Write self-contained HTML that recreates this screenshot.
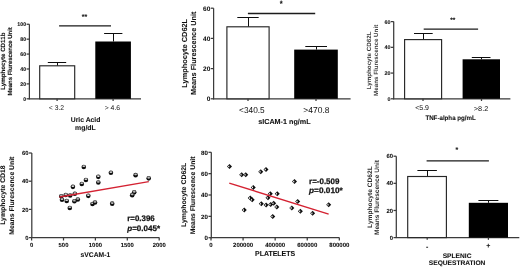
<!DOCTYPE html>
<html><head><meta charset="utf-8"><style>
html,body{margin:0;padding:0;background:#fff;width:520px;height:267px;overflow:hidden}
svg{display:block;-webkit-font-smoothing:antialiased;text-rendering:geometricPrecision}
text{font-family:"Liberation Sans", sans-serif;fill:#111}
</style></head><body>
<svg width="520" height="267" viewBox="0 0 520 267" style="will-change:transform">
<defs><filter id="soft" x="0" y="0" width="1" height="1"><feGaussianBlur stdDeviation="0.45"/></filter></defs>
<rect width="520" height="267" fill="#fff"/>
<g filter="url(#soft)">
<rect width="520" height="267" fill="#fff"/>
<text x="5.20" y="61.20" font-size="6.1" font-weight="bold" text-anchor="middle" textLength="57.21" lengthAdjust="spacingAndGlyphs" stroke="#111" stroke-width="0.12" style="fill:#111" transform="rotate(-90 5.20 61.20)">Lymphocyte CD11b</text>
<text x="12.36" y="61.40" font-size="6.0" font-weight="bold" text-anchor="middle" textLength="68.40" lengthAdjust="spacingAndGlyphs" stroke="#111" stroke-width="0.12" style="fill:#111" transform="rotate(-90 12.36 61.40)">Means Flurescence Unit</text>
<line x1="29.40" y1="99.30" x2="29.40" y2="24.25" stroke="#3a3a3a" stroke-width="1.25"/>
<line x1="26.60" y1="98.80" x2="29.40" y2="98.80" stroke="#3a3a3a" stroke-width="1.25"/>
<text x="26.10" y="100.71" font-size="5.3" font-weight="bold" text-anchor="end" stroke="#111" stroke-width="0.08">0</text>
<line x1="26.60" y1="83.89" x2="29.40" y2="83.89" stroke="#3a3a3a" stroke-width="1.25"/>
<text x="26.10" y="85.80" font-size="5.3" font-weight="bold" text-anchor="end" stroke="#111" stroke-width="0.08">20</text>
<line x1="26.60" y1="68.98" x2="29.40" y2="68.98" stroke="#3a3a3a" stroke-width="1.25"/>
<text x="26.10" y="70.89" font-size="5.3" font-weight="bold" text-anchor="end" stroke="#111" stroke-width="0.08">40</text>
<line x1="26.60" y1="54.07" x2="29.40" y2="54.07" stroke="#3a3a3a" stroke-width="1.25"/>
<text x="26.10" y="55.98" font-size="5.3" font-weight="bold" text-anchor="end" stroke="#111" stroke-width="0.08">60</text>
<line x1="26.60" y1="39.16" x2="29.40" y2="39.16" stroke="#3a3a3a" stroke-width="1.25"/>
<text x="26.10" y="41.07" font-size="5.3" font-weight="bold" text-anchor="end" stroke="#111" stroke-width="0.08">80</text>
<line x1="26.60" y1="24.25" x2="29.40" y2="24.25" stroke="#3a3a3a" stroke-width="1.25"/>
<text x="26.10" y="26.16" font-size="5.3" font-weight="bold" text-anchor="end" stroke="#111" stroke-width="0.08">100</text>
<line x1="28.77" y1="98.80" x2="141.00" y2="98.80" stroke="#3a3a3a" stroke-width="1.25"/>
<line x1="57.50" y1="62.50" x2="57.50" y2="65.80" stroke="#111" stroke-width="1.0"/>
<line x1="47.80" y1="62.50" x2="66.20" y2="62.50" stroke="#111" stroke-width="1.0"/>
<rect x="39.70" y="65.80" width="35.00" height="33.00" fill="#fff" stroke="#262626" stroke-width="1.15"/>
<line x1="113.50" y1="33.80" x2="113.50" y2="41.50" stroke="#111" stroke-width="1.0"/>
<line x1="104.10" y1="33.50" x2="122.40" y2="33.50" stroke="#111" stroke-width="1.0"/>
<rect x="95.30" y="41.50" width="35.60" height="57.30" fill="#000"/>
<line x1="57.10" y1="98.80" x2="57.10" y2="101.00" stroke="#3a3a3a" stroke-width="1.25"/>
<line x1="113.10" y1="98.80" x2="113.10" y2="101.00" stroke="#3a3a3a" stroke-width="1.25"/>
<text x="56.45" y="109.95" font-size="6.8" font-weight="normal" text-anchor="middle" textLength="15.30" lengthAdjust="spacingAndGlyphs">&lt; 3.2</text>
<text x="112.45" y="110.25" font-size="6.8" font-weight="normal" text-anchor="middle" textLength="15.50" lengthAdjust="spacingAndGlyphs">&gt; 4.6</text>
<text x="85.60" y="122.12" font-size="7.0" font-weight="bold" text-anchor="middle" textLength="29.60" lengthAdjust="spacingAndGlyphs" stroke="#111" stroke-width="0.08">Uric Acid</text>
<text x="85.40" y="129.92" font-size="7.0" font-weight="bold" text-anchor="middle" textLength="20.60" lengthAdjust="spacingAndGlyphs" stroke="#111" stroke-width="0.08">mg/dL</text>
<line x1="59.10" y1="25.90" x2="111.00" y2="25.90" stroke="#1a1a1a" stroke-width="1.35"/>
<text x="84.40" y="19.32" font-size="7.0" font-weight="bold" text-anchor="middle" stroke="#111" stroke-width="0.08">**</text>
<text x="186.83" y="53.25" font-size="7.3" font-weight="bold" text-anchor="middle" textLength="68.83" lengthAdjust="spacingAndGlyphs" stroke="#111" stroke-width="0.08" transform="rotate(-90 186.83 53.25)">Lymphocyte CD62L</text>
<text x="195.68" y="53.30" font-size="7.3" font-weight="bold" text-anchor="middle" textLength="83.53" lengthAdjust="spacingAndGlyphs" stroke="#111" stroke-width="0.08" transform="rotate(-90 195.68 53.30)">Means Flurescence Unit</text>
<line x1="213.60" y1="99.30" x2="213.60" y2="8.20" stroke="#3a3a3a" stroke-width="1.25"/>
<line x1="210.80" y1="98.80" x2="213.60" y2="98.80" stroke="#3a3a3a" stroke-width="1.25"/>
<text x="210.30" y="101.14" font-size="6.5" font-weight="bold" text-anchor="end" stroke="#111" stroke-width="0.08">0</text>
<line x1="210.80" y1="68.60" x2="213.60" y2="68.60" stroke="#3a3a3a" stroke-width="1.25"/>
<text x="210.30" y="70.94" font-size="6.5" font-weight="bold" text-anchor="end" stroke="#111" stroke-width="0.08">20</text>
<line x1="210.80" y1="38.40" x2="213.60" y2="38.40" stroke="#3a3a3a" stroke-width="1.25"/>
<text x="210.30" y="40.74" font-size="6.5" font-weight="bold" text-anchor="end" stroke="#111" stroke-width="0.08">40</text>
<line x1="210.80" y1="8.20" x2="213.60" y2="8.20" stroke="#3a3a3a" stroke-width="1.25"/>
<text x="210.30" y="10.54" font-size="6.5" font-weight="bold" text-anchor="end" stroke="#111" stroke-width="0.08">60</text>
<line x1="212.97" y1="98.80" x2="350.60" y2="98.80" stroke="#3a3a3a" stroke-width="1.25"/>
<line x1="248.50" y1="17.20" x2="248.50" y2="26.80" stroke="#111" stroke-width="1.0"/>
<line x1="237.30" y1="17.50" x2="258.70" y2="17.50" stroke="#111" stroke-width="1.0"/>
<rect x="226.90" y="26.80" width="42.20" height="72.00" fill="#fff" stroke="#262626" stroke-width="1.15"/>
<line x1="316.50" y1="46.85" x2="316.50" y2="49.60" stroke="#111" stroke-width="1.0"/>
<line x1="305.30" y1="46.50" x2="327.00" y2="46.50" stroke="#111" stroke-width="1.0"/>
<rect x="294.20" y="49.60" width="43.60" height="49.20" fill="#000"/>
<line x1="248.00" y1="98.80" x2="248.00" y2="101.00" stroke="#3a3a3a" stroke-width="1.25"/>
<line x1="316.00" y1="98.80" x2="316.00" y2="101.00" stroke="#3a3a3a" stroke-width="1.25"/>
<text x="251.90" y="112.70" font-size="8.6" font-weight="normal" text-anchor="middle" textLength="25.60" lengthAdjust="spacingAndGlyphs">&lt;340.5</text>
<text x="316.40" y="112.70" font-size="8.6" font-weight="normal" text-anchor="middle" textLength="26.20" lengthAdjust="spacingAndGlyphs">&gt;470.8</text>
<text x="284.40" y="123.69" font-size="7.2" font-weight="bold" text-anchor="middle" textLength="52.40" lengthAdjust="spacingAndGlyphs" stroke="#111" stroke-width="0.08">sICAM-1 ng/mL</text>
<line x1="247.90" y1="13.50" x2="315.20" y2="13.50" stroke="#1a1a1a" stroke-width="1.35"/>
<text x="281.10" y="5.70" font-size="7.5" font-weight="bold" text-anchor="middle" stroke="#111" stroke-width="0.08">*</text>
<text x="371.00" y="60.40" font-size="6.1" font-weight="bold" text-anchor="middle" textLength="57.81" lengthAdjust="spacingAndGlyphs" style="fill:#383838" transform="rotate(-90 371.00 60.40)">Lymphocyte CD62L</text>
<text x="378.50" y="60.35" font-size="6.1" font-weight="bold" text-anchor="middle" textLength="71.11" lengthAdjust="spacingAndGlyphs" style="fill:#383838" transform="rotate(-90 378.50 60.35)">Means Flurescence Unit</text>
<line x1="393.70" y1="99.30" x2="393.70" y2="21.60" stroke="#3a3a3a" stroke-width="1.25"/>
<line x1="390.90" y1="98.80" x2="393.70" y2="98.80" stroke="#3a3a3a" stroke-width="1.25"/>
<text x="390.40" y="100.74" font-size="5.4" font-weight="bold" text-anchor="end" stroke="#111" stroke-width="0.08">0</text>
<line x1="390.90" y1="73.07" x2="393.70" y2="73.07" stroke="#3a3a3a" stroke-width="1.25"/>
<text x="390.40" y="75.01" font-size="5.4" font-weight="bold" text-anchor="end" stroke="#111" stroke-width="0.08">20</text>
<line x1="390.90" y1="47.33" x2="393.70" y2="47.33" stroke="#3a3a3a" stroke-width="1.25"/>
<text x="390.40" y="49.28" font-size="5.4" font-weight="bold" text-anchor="end" stroke="#111" stroke-width="0.08">40</text>
<line x1="390.90" y1="21.60" x2="393.70" y2="21.60" stroke="#3a3a3a" stroke-width="1.25"/>
<text x="390.40" y="23.54" font-size="5.4" font-weight="bold" text-anchor="end" stroke="#111" stroke-width="0.08">60</text>
<line x1="393.07" y1="98.80" x2="510.40" y2="98.80" stroke="#3a3a3a" stroke-width="1.25"/>
<line x1="423.50" y1="33.60" x2="423.50" y2="39.60" stroke="#111" stroke-width="1.0"/>
<line x1="414.00" y1="33.50" x2="432.70" y2="33.50" stroke="#111" stroke-width="1.0"/>
<rect x="404.60" y="39.60" width="37.00" height="59.20" fill="#fff" stroke="#262626" stroke-width="1.15"/>
<line x1="481.50" y1="57.40" x2="481.50" y2="59.30" stroke="#111" stroke-width="1.0"/>
<line x1="471.80" y1="57.50" x2="490.50" y2="57.50" stroke="#111" stroke-width="1.0"/>
<rect x="462.60" y="59.30" width="37.40" height="39.50" fill="#000"/>
<line x1="423.00" y1="98.80" x2="423.00" y2="101.00" stroke="#3a3a3a" stroke-width="1.25"/>
<line x1="481.50" y1="98.80" x2="481.50" y2="101.00" stroke="#3a3a3a" stroke-width="1.25"/>
<text x="422.10" y="110.32" font-size="7.0" font-weight="normal" text-anchor="middle" textLength="13.80" lengthAdjust="spacingAndGlyphs">&lt;5.9</text>
<text x="481.05" y="110.52" font-size="7.0" font-weight="normal" text-anchor="middle" textLength="14.50" lengthAdjust="spacingAndGlyphs">&gt;8.2</text>
<text x="450.60" y="120.30" font-size="6.4" font-weight="bold" text-anchor="middle" textLength="50.40" lengthAdjust="spacingAndGlyphs" stroke="#111" stroke-width="0.08">TNF-alpha pg/mL</text>
<line x1="423.70" y1="29.10" x2="478.10" y2="29.10" stroke="#1a1a1a" stroke-width="1.35"/>
<text x="452.80" y="22.49" font-size="6.5" font-weight="bold" text-anchor="middle" stroke="#111" stroke-width="0.08">**</text>
<text x="5.28" y="195.10" font-size="6.75" font-weight="bold" text-anchor="middle" textLength="59.48" lengthAdjust="spacingAndGlyphs" stroke="#111" stroke-width="0.08" transform="rotate(-90 5.28 195.10)">Lymphocyte CD18</text>
<text x="13.93" y="195.70" font-size="6.75" font-weight="bold" text-anchor="middle" textLength="78.08" lengthAdjust="spacingAndGlyphs" stroke="#111" stroke-width="0.08" transform="rotate(-90 13.93 195.70)">Means Flurescence Unit</text>
<line x1="31.80" y1="238.10" x2="31.80" y2="153.00" stroke="#3a3a3a" stroke-width="1.25"/>
<line x1="29.00" y1="237.60" x2="31.80" y2="237.60" stroke="#3a3a3a" stroke-width="1.25"/>
<text x="28.50" y="239.72" font-size="5.9" font-weight="bold" text-anchor="end" stroke="#111" stroke-width="0.08">0</text>
<line x1="29.00" y1="209.40" x2="31.80" y2="209.40" stroke="#3a3a3a" stroke-width="1.25"/>
<text x="28.50" y="211.52" font-size="5.9" font-weight="bold" text-anchor="end" stroke="#111" stroke-width="0.08">20</text>
<line x1="29.00" y1="181.20" x2="31.80" y2="181.20" stroke="#3a3a3a" stroke-width="1.25"/>
<text x="28.50" y="183.32" font-size="5.9" font-weight="bold" text-anchor="end" stroke="#111" stroke-width="0.08">40</text>
<line x1="29.00" y1="153.00" x2="31.80" y2="153.00" stroke="#3a3a3a" stroke-width="1.25"/>
<text x="28.50" y="155.12" font-size="5.9" font-weight="bold" text-anchor="end" stroke="#111" stroke-width="0.08">60</text>
<line x1="31.18" y1="237.60" x2="159.30" y2="237.60" stroke="#3a3a3a" stroke-width="1.25"/>
<line x1="31.60" y1="237.60" x2="31.60" y2="240.50" stroke="#3a3a3a" stroke-width="1.25"/>
<text x="31.60" y="247.42" font-size="5.9" font-weight="bold" text-anchor="middle" stroke="#111" stroke-width="0.08">0</text>
<line x1="63.50" y1="237.60" x2="63.50" y2="240.50" stroke="#3a3a3a" stroke-width="1.25"/>
<text x="63.50" y="247.42" font-size="5.9" font-weight="bold" text-anchor="middle" stroke="#111" stroke-width="0.08">500</text>
<line x1="95.40" y1="237.60" x2="95.40" y2="240.50" stroke="#3a3a3a" stroke-width="1.25"/>
<text x="95.40" y="247.42" font-size="5.9" font-weight="bold" text-anchor="middle" stroke="#111" stroke-width="0.08">1000</text>
<line x1="127.30" y1="237.60" x2="127.30" y2="240.50" stroke="#3a3a3a" stroke-width="1.25"/>
<text x="127.30" y="247.42" font-size="5.9" font-weight="bold" text-anchor="middle" stroke="#111" stroke-width="0.08">1500</text>
<line x1="159.20" y1="237.60" x2="159.20" y2="240.50" stroke="#3a3a3a" stroke-width="1.25"/>
<text x="159.20" y="247.42" font-size="5.9" font-weight="bold" text-anchor="middle" stroke="#111" stroke-width="0.08">2000</text>
<text x="95.40" y="257.08" font-size="6.9" font-weight="bold" text-anchor="middle" textLength="29.60" lengthAdjust="spacingAndGlyphs" stroke="#111" stroke-width="0.08">sVCAM-1</text>
<g transform="translate(83.80,166.95)"><circle r="2.3" fill="#111"/><ellipse cx="0" cy="-1.05" rx="1.55" ry="0.95" fill="#8a8a8a"/><ellipse cx="0" cy="-0.35" rx="1.45" ry="0.42" fill="#fff"/></g>
<g transform="translate(72.90,186.85)"><circle r="2.3" fill="#111"/><ellipse cx="0" cy="-1.05" rx="1.55" ry="0.95" fill="#8a8a8a"/><ellipse cx="0" cy="-0.35" rx="1.45" ry="0.42" fill="#fff"/></g>
<g transform="translate(81.80,183.95)"><circle r="2.3" fill="#111"/><ellipse cx="0" cy="-1.05" rx="1.55" ry="0.95" fill="#8a8a8a"/><ellipse cx="0" cy="-0.35" rx="1.45" ry="0.42" fill="#fff"/></g>
<g transform="translate(85.90,180.05)"><circle r="2.3" fill="#111"/><ellipse cx="0" cy="-1.05" rx="1.55" ry="0.95" fill="#8a8a8a"/><ellipse cx="0" cy="-0.35" rx="1.45" ry="0.42" fill="#fff"/></g>
<g transform="translate(98.30,176.85)"><circle r="2.3" fill="#111"/><ellipse cx="0" cy="-1.05" rx="1.55" ry="0.95" fill="#8a8a8a"/><ellipse cx="0" cy="-0.35" rx="1.45" ry="0.42" fill="#fff"/></g>
<g transform="translate(98.30,182.45)"><circle r="2.3" fill="#111"/><ellipse cx="0" cy="-1.05" rx="1.55" ry="0.95" fill="#8a8a8a"/><ellipse cx="0" cy="-0.35" rx="1.45" ry="0.42" fill="#fff"/></g>
<g transform="translate(61.30,196.25)"><circle r="2.3" fill="#111"/><ellipse cx="0" cy="-1.05" rx="1.55" ry="0.95" fill="#8a8a8a"/><ellipse cx="0" cy="-0.35" rx="1.45" ry="0.42" fill="#fff"/></g>
<g transform="translate(65.75,195.05)"><circle r="2.3" fill="#111"/><ellipse cx="0" cy="-1.05" rx="1.55" ry="0.95" fill="#8a8a8a"/><ellipse cx="0" cy="-0.35" rx="1.45" ry="0.42" fill="#fff"/></g>
<g transform="translate(70.20,195.45)"><circle r="2.3" fill="#111"/><ellipse cx="0" cy="-1.05" rx="1.55" ry="0.95" fill="#8a8a8a"/><ellipse cx="0" cy="-0.35" rx="1.45" ry="0.42" fill="#fff"/></g>
<g transform="translate(74.80,193.75)"><circle r="2.3" fill="#111"/><ellipse cx="0" cy="-1.05" rx="1.55" ry="0.95" fill="#8a8a8a"/><ellipse cx="0" cy="-0.35" rx="1.45" ry="0.42" fill="#fff"/></g>
<g transform="translate(88.30,195.85)"><circle r="2.3" fill="#111"/><ellipse cx="0" cy="-1.05" rx="1.55" ry="0.95" fill="#8a8a8a"/><ellipse cx="0" cy="-0.35" rx="1.45" ry="0.42" fill="#fff"/></g>
<g transform="translate(62.00,199.75)"><circle r="2.3" fill="#111"/><ellipse cx="0" cy="-1.05" rx="1.55" ry="0.95" fill="#8a8a8a"/><ellipse cx="0" cy="-0.35" rx="1.45" ry="0.42" fill="#fff"/></g>
<g transform="translate(66.70,201.05)"><circle r="2.3" fill="#111"/><ellipse cx="0" cy="-1.05" rx="1.55" ry="0.95" fill="#8a8a8a"/><ellipse cx="0" cy="-0.35" rx="1.45" ry="0.42" fill="#fff"/></g>
<g transform="translate(74.40,201.25)"><circle r="2.3" fill="#111"/><ellipse cx="0" cy="-1.05" rx="1.55" ry="0.95" fill="#8a8a8a"/><ellipse cx="0" cy="-0.35" rx="1.45" ry="0.42" fill="#fff"/></g>
<g transform="translate(77.80,199.45)"><circle r="2.3" fill="#111"/><ellipse cx="0" cy="-1.05" rx="1.55" ry="0.95" fill="#8a8a8a"/><ellipse cx="0" cy="-0.35" rx="1.45" ry="0.42" fill="#fff"/></g>
<g transform="translate(92.50,203.95)"><circle r="2.3" fill="#111"/><ellipse cx="0" cy="-1.05" rx="1.55" ry="0.95" fill="#8a8a8a"/><ellipse cx="0" cy="-0.35" rx="1.45" ry="0.42" fill="#fff"/></g>
<g transform="translate(95.00,202.45)"><circle r="2.3" fill="#111"/><ellipse cx="0" cy="-1.05" rx="1.55" ry="0.95" fill="#8a8a8a"/><ellipse cx="0" cy="-0.35" rx="1.45" ry="0.42" fill="#fff"/></g>
<g transform="translate(69.80,207.95)"><circle r="2.3" fill="#111"/><ellipse cx="0" cy="-1.05" rx="1.55" ry="0.95" fill="#8a8a8a"/><ellipse cx="0" cy="-0.35" rx="1.45" ry="0.42" fill="#fff"/></g>
<g transform="translate(110.90,172.75)"><circle r="2.3" fill="#111"/><ellipse cx="0" cy="-1.05" rx="1.55" ry="0.95" fill="#8a8a8a"/><ellipse cx="0" cy="-0.35" rx="1.45" ry="0.42" fill="#fff"/></g>
<g transform="translate(135.60,175.15)"><circle r="2.3" fill="#111"/><ellipse cx="0" cy="-1.05" rx="1.55" ry="0.95" fill="#8a8a8a"/><ellipse cx="0" cy="-0.35" rx="1.45" ry="0.42" fill="#fff"/></g>
<g transform="translate(148.70,178.35)"><circle r="2.3" fill="#111"/><ellipse cx="0" cy="-1.05" rx="1.55" ry="0.95" fill="#8a8a8a"/><ellipse cx="0" cy="-0.35" rx="1.45" ry="0.42" fill="#fff"/></g>
<g transform="translate(134.20,192.35)"><circle r="2.3" fill="#111"/><ellipse cx="0" cy="-1.05" rx="1.55" ry="0.95" fill="#8a8a8a"/><ellipse cx="0" cy="-0.35" rx="1.45" ry="0.42" fill="#fff"/></g>
<g transform="translate(132.20,195.15)"><circle r="2.3" fill="#111"/><ellipse cx="0" cy="-1.05" rx="1.55" ry="0.95" fill="#8a8a8a"/><ellipse cx="0" cy="-0.35" rx="1.45" ry="0.42" fill="#fff"/></g>
<g transform="translate(112.20,203.65)"><circle r="2.3" fill="#111"/><ellipse cx="0" cy="-1.05" rx="1.55" ry="0.95" fill="#8a8a8a"/><ellipse cx="0" cy="-0.35" rx="1.45" ry="0.42" fill="#fff"/></g>
<line x1="59.40" y1="197.00" x2="148.80" y2="181.60" stroke="#d42232" stroke-width="1.4"/>
<text x="127.30" y="221.48" font-size="8.0" font-weight="bold" text-anchor="start" textLength="27.40" lengthAdjust="spacingAndGlyphs" stroke="#111" stroke-width="0.25">r=0.396</text>
<text x="127.30" y="231.18" font-size="8.0" font-weight="bold" text-anchor="start" textLength="32.70" lengthAdjust="spacingAndGlyphs" stroke="#111" stroke-width="0.25"><tspan font-style="italic">p</tspan>=0.045*</text>
<text x="185.95" y="194.85" font-size="6.8" font-weight="bold" text-anchor="middle" textLength="64.38" lengthAdjust="spacingAndGlyphs" stroke="#111" stroke-width="0.08" transform="rotate(-90 185.95 194.85)">Lymphocyte CD62L</text>
<text x="194.75" y="195.45" font-size="6.8" font-weight="bold" text-anchor="middle" textLength="77.78" lengthAdjust="spacingAndGlyphs" stroke="#111" stroke-width="0.08" transform="rotate(-90 194.75 195.45)">Means Flurescence Unit</text>
<line x1="211.30" y1="238.20" x2="211.30" y2="152.30" stroke="#3a3a3a" stroke-width="1.25"/>
<line x1="208.50" y1="237.70" x2="211.30" y2="237.70" stroke="#3a3a3a" stroke-width="1.25"/>
<text x="208.00" y="239.93" font-size="6.2" font-weight="bold" text-anchor="end" stroke="#111" stroke-width="0.08">0</text>
<line x1="208.50" y1="216.35" x2="211.30" y2="216.35" stroke="#3a3a3a" stroke-width="1.25"/>
<text x="208.00" y="218.58" font-size="6.2" font-weight="bold" text-anchor="end" stroke="#111" stroke-width="0.08">20</text>
<line x1="208.50" y1="195.00" x2="211.30" y2="195.00" stroke="#3a3a3a" stroke-width="1.25"/>
<text x="208.00" y="197.23" font-size="6.2" font-weight="bold" text-anchor="end" stroke="#111" stroke-width="0.08">40</text>
<line x1="208.50" y1="173.65" x2="211.30" y2="173.65" stroke="#3a3a3a" stroke-width="1.25"/>
<text x="208.00" y="175.88" font-size="6.2" font-weight="bold" text-anchor="end" stroke="#111" stroke-width="0.08">60</text>
<line x1="208.50" y1="152.30" x2="211.30" y2="152.30" stroke="#3a3a3a" stroke-width="1.25"/>
<text x="208.00" y="154.53" font-size="6.2" font-weight="bold" text-anchor="end" stroke="#111" stroke-width="0.08">80</text>
<line x1="210.68" y1="237.70" x2="339.50" y2="237.70" stroke="#3a3a3a" stroke-width="1.25"/>
<line x1="211.00" y1="237.70" x2="211.00" y2="240.50" stroke="#3a3a3a" stroke-width="1.25"/>
<text x="211.00" y="247.36" font-size="6.0" font-weight="bold" text-anchor="middle" stroke="#111" stroke-width="0.08">0</text>
<line x1="243.08" y1="237.70" x2="243.08" y2="240.50" stroke="#3a3a3a" stroke-width="1.25"/>
<text x="243.08" y="247.36" font-size="6.0" font-weight="bold" text-anchor="middle" stroke="#111" stroke-width="0.08">200000</text>
<line x1="275.16" y1="237.70" x2="275.16" y2="240.50" stroke="#3a3a3a" stroke-width="1.25"/>
<text x="275.16" y="247.36" font-size="6.0" font-weight="bold" text-anchor="middle" stroke="#111" stroke-width="0.08">400000</text>
<line x1="307.24" y1="237.70" x2="307.24" y2="240.50" stroke="#3a3a3a" stroke-width="1.25"/>
<text x="307.24" y="247.36" font-size="6.0" font-weight="bold" text-anchor="middle" stroke="#111" stroke-width="0.08">600000</text>
<line x1="339.32" y1="237.70" x2="339.32" y2="240.50" stroke="#3a3a3a" stroke-width="1.25"/>
<text x="339.32" y="247.36" font-size="6.0" font-weight="bold" text-anchor="middle" stroke="#111" stroke-width="0.08">800000</text>
<text x="275.10" y="256.49" font-size="7.2" font-weight="bold" text-anchor="middle" textLength="40.20" lengthAdjust="spacingAndGlyphs" stroke="#111" stroke-width="0.08">PLATELETS</text>
<g transform="translate(229.50,166.50)"><polygon points="-2.50,0 0,-2.50 2.50,0 0,2.50" fill="#111"/><polygon points="-1.6,0 -0.3,-1.3 -0.3,1.3" fill="#aaa"/><circle cx="-0.7" cy="0" r="0.55" fill="#fff"/></g>
<g transform="translate(241.70,174.80)"><polygon points="-2.50,0 0,-2.50 2.50,0 0,2.50" fill="#111"/><polygon points="-1.6,0 -0.3,-1.3 -0.3,1.3" fill="#aaa"/><circle cx="-0.7" cy="0" r="0.55" fill="#fff"/></g>
<g transform="translate(245.75,174.80)"><polygon points="-2.50,0 0,-2.50 2.50,0 0,2.50" fill="#111"/><polygon points="-1.6,0 -0.3,-1.3 -0.3,1.3" fill="#aaa"/><circle cx="-0.7" cy="0" r="0.55" fill="#fff"/></g>
<g transform="translate(260.75,171.80)"><polygon points="-2.50,0 0,-2.50 2.50,0 0,2.50" fill="#111"/><polygon points="-1.6,0 -0.3,-1.3 -0.3,1.3" fill="#aaa"/><circle cx="-0.7" cy="0" r="0.55" fill="#fff"/></g>
<g transform="translate(266.00,169.55)"><polygon points="-2.50,0 0,-2.50 2.50,0 0,2.50" fill="#111"/><polygon points="-1.6,0 -0.3,-1.3 -0.3,1.3" fill="#aaa"/><circle cx="-0.7" cy="0" r="0.55" fill="#fff"/></g>
<g transform="translate(253.25,187.40)"><polygon points="-2.50,0 0,-2.50 2.50,0 0,2.50" fill="#111"/><polygon points="-1.6,0 -0.3,-1.3 -0.3,1.3" fill="#aaa"/><circle cx="-0.7" cy="0" r="0.55" fill="#fff"/></g>
<g transform="translate(270.30,193.80)"><polygon points="-2.50,0 0,-2.50 2.50,0 0,2.50" fill="#111"/><polygon points="-1.6,0 -0.3,-1.3 -0.3,1.3" fill="#aaa"/><circle cx="-0.7" cy="0" r="0.55" fill="#fff"/></g>
<g transform="translate(277.25,193.80)"><polygon points="-2.50,0 0,-2.50 2.50,0 0,2.50" fill="#111"/><polygon points="-1.6,0 -0.3,-1.3 -0.3,1.3" fill="#aaa"/><circle cx="-0.7" cy="0" r="0.55" fill="#fff"/></g>
<g transform="translate(268.00,197.70)"><polygon points="-2.50,0 0,-2.50 2.50,0 0,2.50" fill="#111"/><polygon points="-1.6,0 -0.3,-1.3 -0.3,1.3" fill="#aaa"/><circle cx="-0.7" cy="0" r="0.55" fill="#fff"/></g>
<g transform="translate(250.25,198.10)"><polygon points="-2.50,0 0,-2.50 2.50,0 0,2.50" fill="#111"/><polygon points="-1.6,0 -0.3,-1.3 -0.3,1.3" fill="#aaa"/><circle cx="-0.7" cy="0" r="0.55" fill="#fff"/></g>
<g transform="translate(252.20,199.80)"><polygon points="-2.50,0 0,-2.50 2.50,0 0,2.50" fill="#111"/><polygon points="-1.6,0 -0.3,-1.3 -0.3,1.3" fill="#aaa"/><circle cx="-0.7" cy="0" r="0.55" fill="#fff"/></g>
<g transform="translate(261.30,203.70)"><polygon points="-2.50,0 0,-2.50 2.50,0 0,2.50" fill="#111"/><polygon points="-1.6,0 -0.3,-1.3 -0.3,1.3" fill="#aaa"/><circle cx="-0.7" cy="0" r="0.55" fill="#fff"/></g>
<g transform="translate(266.10,205.00)"><polygon points="-2.50,0 0,-2.50 2.50,0 0,2.50" fill="#111"/><polygon points="-1.6,0 -0.3,-1.3 -0.3,1.3" fill="#aaa"/><circle cx="-0.7" cy="0" r="0.55" fill="#fff"/></g>
<g transform="translate(270.70,204.50)"><polygon points="-2.50,0 0,-2.50 2.50,0 0,2.50" fill="#111"/><polygon points="-1.6,0 -0.3,-1.3 -0.3,1.3" fill="#aaa"/><circle cx="-0.7" cy="0" r="0.55" fill="#fff"/></g>
<g transform="translate(273.70,203.30)"><polygon points="-2.50,0 0,-2.50 2.50,0 0,2.50" fill="#111"/><polygon points="-1.6,0 -0.3,-1.3 -0.3,1.3" fill="#aaa"/><circle cx="-0.7" cy="0" r="0.55" fill="#fff"/></g>
<g transform="translate(276.80,206.90)"><polygon points="-2.50,0 0,-2.50 2.50,0 0,2.50" fill="#111"/><polygon points="-1.6,0 -0.3,-1.3 -0.3,1.3" fill="#aaa"/><circle cx="-0.7" cy="0" r="0.55" fill="#fff"/></g>
<g transform="translate(244.25,210.10)"><polygon points="-2.50,0 0,-2.50 2.50,0 0,2.50" fill="#111"/><polygon points="-1.6,0 -0.3,-1.3 -0.3,1.3" fill="#aaa"/><circle cx="-0.7" cy="0" r="0.55" fill="#fff"/></g>
<g transform="translate(272.75,216.50)"><polygon points="-2.50,0 0,-2.50 2.50,0 0,2.50" fill="#111"/><polygon points="-1.6,0 -0.3,-1.3 -0.3,1.3" fill="#aaa"/><circle cx="-0.7" cy="0" r="0.55" fill="#fff"/></g>
<g transform="translate(294.50,181.60)"><polygon points="-2.50,0 0,-2.50 2.50,0 0,2.50" fill="#111"/><polygon points="-1.6,0 -0.3,-1.3 -0.3,1.3" fill="#aaa"/><circle cx="-0.7" cy="0" r="0.55" fill="#fff"/></g>
<g transform="translate(297.70,201.50)"><polygon points="-2.50,0 0,-2.50 2.50,0 0,2.50" fill="#111"/><polygon points="-1.6,0 -0.3,-1.3 -0.3,1.3" fill="#aaa"/><circle cx="-0.7" cy="0" r="0.55" fill="#fff"/></g>
<g transform="translate(291.80,207.90)"><polygon points="-2.50,0 0,-2.50 2.50,0 0,2.50" fill="#111"/><polygon points="-1.6,0 -0.3,-1.3 -0.3,1.3" fill="#aaa"/><circle cx="-0.7" cy="0" r="0.55" fill="#fff"/></g>
<g transform="translate(300.40,211.20)"><polygon points="-2.50,0 0,-2.50 2.50,0 0,2.50" fill="#111"/><polygon points="-1.6,0 -0.3,-1.3 -0.3,1.3" fill="#aaa"/><circle cx="-0.7" cy="0" r="0.55" fill="#fff"/></g>
<g transform="translate(312.60,213.30)"><polygon points="-2.50,0 0,-2.50 2.50,0 0,2.50" fill="#111"/><polygon points="-1.6,0 -0.3,-1.3 -0.3,1.3" fill="#aaa"/><circle cx="-0.7" cy="0" r="0.55" fill="#fff"/></g>
<g transform="translate(328.70,204.70)"><polygon points="-2.50,0 0,-2.50 2.50,0 0,2.50" fill="#111"/><polygon points="-1.6,0 -0.3,-1.3 -0.3,1.3" fill="#aaa"/><circle cx="-0.7" cy="0" r="0.55" fill="#fff"/></g>
<line x1="229.25" y1="183.05" x2="328.65" y2="214.15" stroke="#d42232" stroke-width="1.4"/>
<text x="309.10" y="184.48" font-size="8.0" font-weight="bold" text-anchor="start" textLength="30.30" lengthAdjust="spacingAndGlyphs" stroke="#111" stroke-width="0.25">r=-0.509</text>
<text x="309.10" y="192.68" font-size="8.0" font-weight="bold" text-anchor="start" textLength="33.70" lengthAdjust="spacingAndGlyphs" stroke="#111" stroke-width="0.25"><tspan font-style="italic">p</tspan>=0.010*</text>
<text x="371.54" y="197.05" font-size="6.5" font-weight="bold" text-anchor="middle" textLength="61.75" lengthAdjust="spacingAndGlyphs" style="fill:#2a2a2a" transform="rotate(-90 371.54 197.05)">Lymphocyte CD62L</text>
<text x="379.34" y="197.55" font-size="6.5" font-weight="bold" text-anchor="middle" textLength="74.95" lengthAdjust="spacingAndGlyphs" style="fill:#2a2a2a" transform="rotate(-90 379.34 197.55)">Means Flurescence Unit</text>
<line x1="396.30" y1="238.10" x2="396.30" y2="156.20" stroke="#3a3a3a" stroke-width="1.25"/>
<line x1="393.50" y1="237.60" x2="396.30" y2="237.60" stroke="#3a3a3a" stroke-width="1.25"/>
<text x="393.00" y="239.72" font-size="5.9" font-weight="bold" text-anchor="end" stroke="#111" stroke-width="0.08">0</text>
<line x1="393.50" y1="210.47" x2="396.30" y2="210.47" stroke="#3a3a3a" stroke-width="1.25"/>
<text x="393.00" y="212.59" font-size="5.9" font-weight="bold" text-anchor="end" stroke="#111" stroke-width="0.08">20</text>
<line x1="393.50" y1="183.33" x2="396.30" y2="183.33" stroke="#3a3a3a" stroke-width="1.25"/>
<text x="393.00" y="185.46" font-size="5.9" font-weight="bold" text-anchor="end" stroke="#111" stroke-width="0.08">40</text>
<line x1="393.50" y1="156.20" x2="396.30" y2="156.20" stroke="#3a3a3a" stroke-width="1.25"/>
<text x="393.00" y="158.32" font-size="5.9" font-weight="bold" text-anchor="end" stroke="#111" stroke-width="0.08">60</text>
<line x1="395.68" y1="237.60" x2="519.30" y2="237.60" stroke="#3a3a3a" stroke-width="1.25"/>
<line x1="427.50" y1="170.50" x2="427.50" y2="176.50" stroke="#111" stroke-width="1.0"/>
<line x1="417.40" y1="170.50" x2="436.90" y2="170.50" stroke="#111" stroke-width="1.0"/>
<rect x="407.70" y="176.50" width="38.70" height="61.10" fill="#fff" stroke="#262626" stroke-width="1.15"/>
<line x1="488.50" y1="200.00" x2="488.50" y2="202.80" stroke="#111" stroke-width="1.0"/>
<line x1="478.40" y1="200.50" x2="498.40" y2="200.50" stroke="#111" stroke-width="1.0"/>
<rect x="468.80" y="202.80" width="39.20" height="34.80" fill="#000"/>
<line x1="427.20" y1="237.60" x2="427.20" y2="239.80" stroke="#3a3a3a" stroke-width="1.25"/>
<line x1="488.40" y1="237.60" x2="488.40" y2="239.80" stroke="#3a3a3a" stroke-width="1.25"/>
<text x="427.20" y="249.42" font-size="7.0" font-weight="bold" text-anchor="middle" stroke="#111" stroke-width="0.08">-</text>
<text x="488.30" y="248.22" font-size="7.0" font-weight="bold" text-anchor="middle" stroke="#111" stroke-width="0.08">+</text>
<text x="457.10" y="257.88" font-size="6.6" font-weight="bold" text-anchor="middle" textLength="28.80" lengthAdjust="spacingAndGlyphs" stroke="#111" stroke-width="0.08">SPLENIC</text>
<text x="457.10" y="264.98" font-size="6.6" font-weight="bold" text-anchor="middle" textLength="56.60" lengthAdjust="spacingAndGlyphs" stroke="#111" stroke-width="0.08">SEQUESTRATION</text>
<line x1="426.60" y1="160.80" x2="488.90" y2="160.80" stroke="#1a1a1a" stroke-width="1.35"/>
<text x="456.90" y="151.92" font-size="7.0" font-weight="bold" text-anchor="middle" stroke="#111" stroke-width="0.08">*</text>
</g>
</svg>
</body></html>
